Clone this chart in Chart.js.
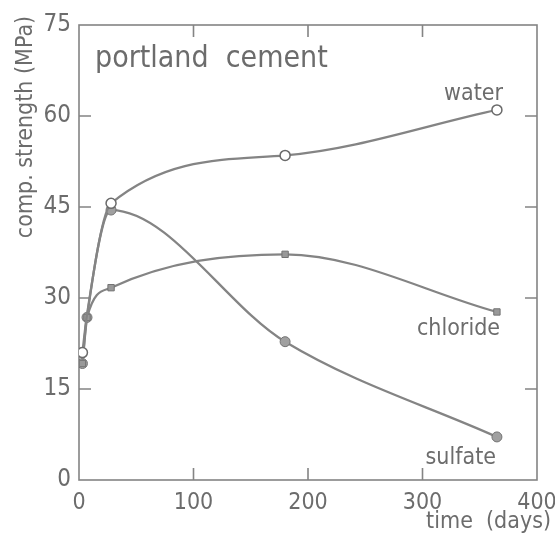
<!DOCTYPE html>
<html>
<head>
<meta charset="utf-8">
<script src="https://cdn.jsdelivr.net/npm/chart.js@4"></script>
<style>
  body { margin: 0; background: #fff; }
</style>
</head>
<body>
<canvas id="myChart" width="555" height="538"></canvas>
<script>
// values
const days = [3, 7, 28, 180, 365];
const water = [21, 27.3, 45.6, 53.5, 61];
const chloride = [19.2, 26.8, 31.7, 37.2, 27.7];
const sulfate = [19.2, 26.8, 44.5, 22.8, 7.1];
const xTicks = [0, 100, 200, 300, 400];
const yTicks = [0, 15, 30, 45, 60, 75];

const ink = "#6c6c6c";
const lineInk = "#848484";
const narrowFont = '"DejaVu Sans Condensed", "Liberation Sans Narrow", "DejaVu Sans", sans-serif';

const toPoints = (xs, ys) => xs.map((x, i) => ({ x: x, y: ys[i] }));

// box round the plot with ticks pointing inwards, plus the hand lettering
const framePlugin = {
  id: "frame",
  beforeDatasetsDraw(chart) {
    const c = chart.ctx;
    const a = chart.chartArea;
    const xs = chart.scales.x;
    const ys = chart.scales.y;
    const tl = 12;
    c.save();
    c.strokeStyle = lineInk;
    c.lineWidth = 1.6;
    c.strokeRect(a.left, a.top, a.right - a.left, a.bottom - a.top);
    c.beginPath();
    xTicks.slice(1, -1).forEach((v) => {
      const px = xs.getPixelForValue(v);
      c.moveTo(px, a.bottom);
      c.lineTo(px, a.bottom - tl);
      c.moveTo(px, a.top);
      c.lineTo(px, a.top + tl);
    });
    yTicks.slice(1, -1).forEach((v) => {
      const py = ys.getPixelForValue(v);
      c.moveTo(a.left, py);
      c.lineTo(a.left + tl, py);
      c.moveTo(a.right, py);
      c.lineTo(a.right - tl, py);
    });
    c.stroke();
    c.restore();
  },
  afterDraw(chart) {
    const c = chart.ctx;
    c.save();
    c.fillStyle = ink;
    c.textBaseline = "alphabetic";
    c.font = "30px " + narrowFont;
    c.textAlign = "left";
    c.fillText("portland  cement", 95, 67);
    c.font = "23px " + narrowFont;
    c.textAlign = "right";
    c.fillText("water", 503, 100);
    c.fillText("chloride", 500, 335);
    c.fillText("sulfate", 496, 464);
    c.fillText("time  (days)", 551, 528);
    c.translate(32, 127);
    c.rotate(-Math.PI / 2);
    c.textAlign = "center";
    c.fillText("comp. strength (MPa)", 0, 0);
    c.restore();
  },
};

new Chart(document.getElementById("myChart"), {
  type: "line",
  data: {
    datasets: [
      {
        label: "water",
        data: toPoints(days, water),
        borderColor: lineInk,
        borderWidth: 2.3,
        cubicInterpolationMode: "monotone",
        pointStyle: "circle",
        // the 7 day circle sits hidden under the other marks
        pointRadius: [5, 0, 5, 5, 5],
        pointBackgroundColor: "#ffffff",
        pointBorderColor: "#6a6a6a",
        pointBorderWidth: 1.5,
      },
      {
        label: "chloride",
        data: toPoints(days, chloride),
        borderColor: lineInk,
        borderWidth: 2.3,
        cubicInterpolationMode: "monotone",
        pointStyle: "rect",
        pointRadius: 4.5,
        pointBackgroundColor: "#999999",
        pointBorderColor: "#737373",
        pointBorderWidth: 1,
      },
      {
        label: "sulfate",
        data: toPoints(days, sulfate),
        borderColor: lineInk,
        borderWidth: 2.3,
        cubicInterpolationMode: "monotone",
        pointStyle: "circle",
        pointRadius: 5,
        pointBackgroundColor: "#a0a0a0",
        pointBorderColor: "#737373",
        pointBorderWidth: 1,
      },
    ],
  },
  options: {
    responsive: false,
    animation: false,
    layout: { padding: { top: 25, right: 18, bottom: 0, left: 0 } },
    plugins: {
      legend: { display: false },
      tooltip: { enabled: false },
    },
    scales: {
      x: {
        type: "linear",
        min: 0,
        max: 400,
        afterBuildTicks: (s) => { s.ticks = xTicks.map((v) => ({ value: v })); },
        afterFit: (s) => {
          s.height = 58;
          s.paddingLeft = 0;
          s.paddingRight = 0;
        },
        ticks: {
          color: ink,
          font: { family: narrowFont, size: 23 },
          padding: 9,
          maxRotation: 0,
        },
        grid: { display: false, drawTicks: false },
        border: { display: false },
      },
      y: {
        min: 0,
        max: 75,
        afterBuildTicks: (s) => { s.ticks = yTicks.map((v) => ({ value: v })); },
        afterFit: (s) => { s.width = 79; },
        ticks: {
          color: ink,
          font: { family: narrowFont, size: 24 },
          padding: 8,
        },
        grid: { display: false, drawTicks: false },
        border: { display: false },
      },
    },
  },
  plugins: [framePlugin],
});
</script>
</body>
</html>
